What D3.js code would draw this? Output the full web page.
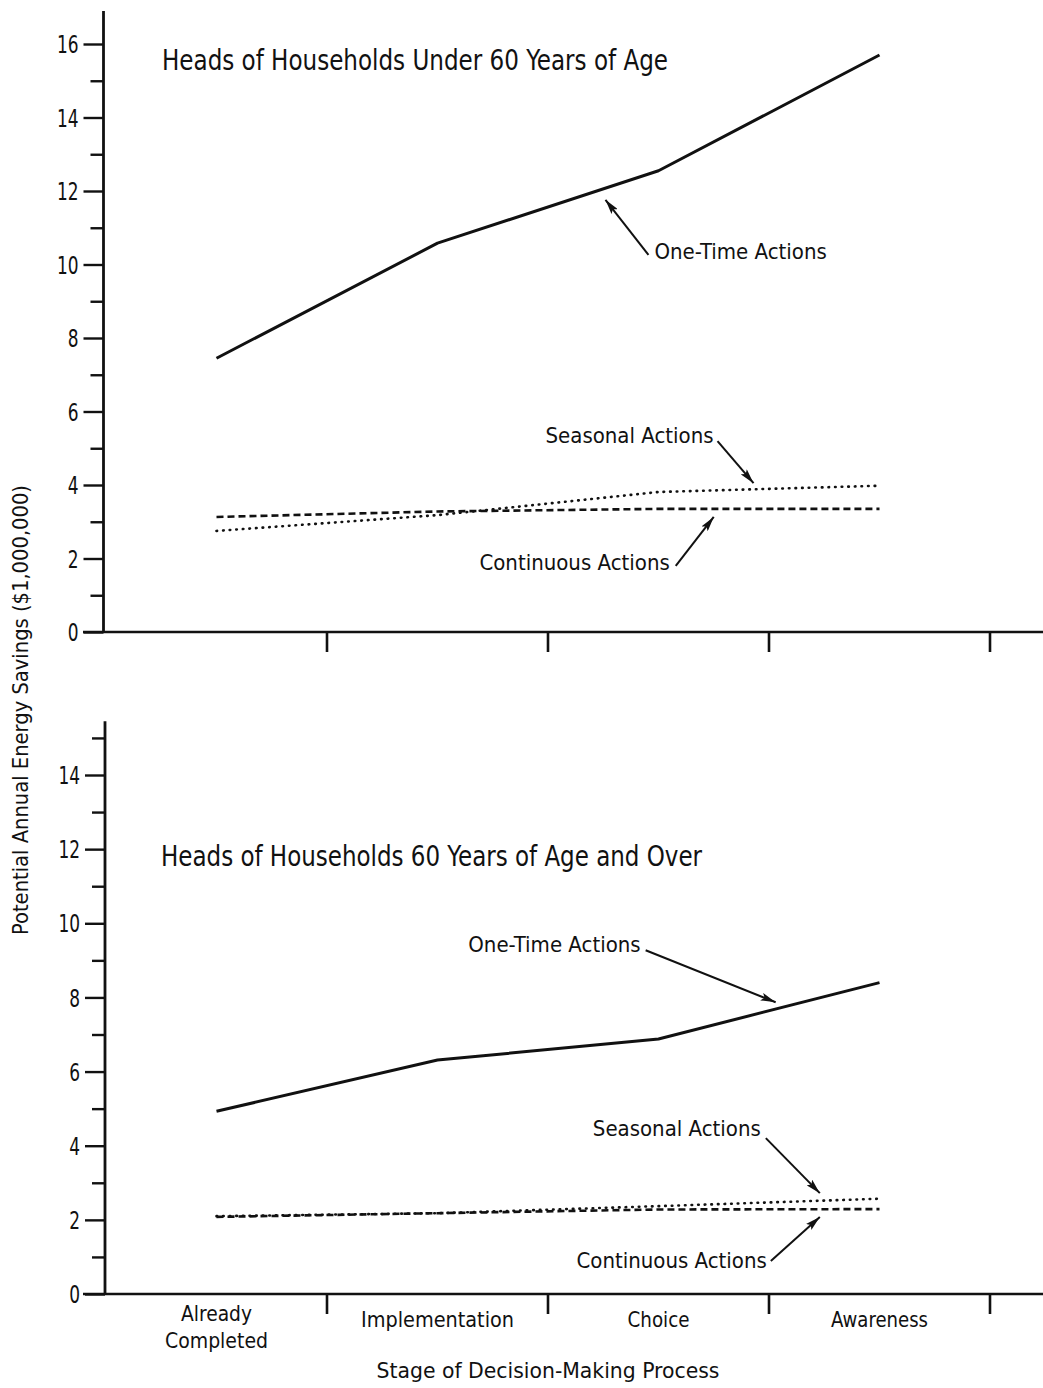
<!DOCTYPE html>
<html>
<head>
<meta charset="utf-8">
<script src="https://cdn.jsdelivr.net/npm/d3@7"></script>
<style>
  html, body { margin: 0; padding: 0; background: #fff; }
  svg { display: block; }
  text { font-family: "Liberation Sans Narrow", "DejaVu Sans Condensed", "Liberation Sans", sans-serif; fill: #111; }
</style>
</head>
<body>
<svg id="chart" width="1043" height="1388"></svg>
<script>
// ---------- data ----------
const categories = ["Already Completed", "Implementation", "Choice", "Awareness"];
const categoryLines = [["Already", "Completed"], ["Implementation"], ["Choice"], ["Awareness"]];

const under60OneTime    = [7.45, 10.58, 12.55, 15.70];
const under60Seasonal   = [2.75, 3.18, 3.81, 3.98];
const under60Continuous = [3.13, 3.28, 3.35, 3.35];

const over60OneTime     = [4.93, 6.31, 6.88, 8.40];
const over60Seasonal    = [2.10, 2.18, 2.37, 2.57];
const over60Continuous  = [2.08, 2.18, 2.28, 2.29];

const topTickValues = [0,1,2,3,4,5,6,7,8,9,10,11,12,13,14,15,16];
const bottomTickValues = [0,1,2,3,4,5,6,7,8,9,10,11,12,13,14,15];

const panelTitles = ["Heads of Households Under 60 Years of Age", "Heads of Households 60 Years of Age and Over"];
const seriesNames = ["One-Time Actions", "Seasonal Actions", "Continuous Actions"];
const yTitle = "Potential Annual Energy Savings ($1,000,000)";
const xTitle = "Stage of Decision-Making Process";

// ---------- layout ----------
const svg = d3.select("#chart");
const ink = "#111";

const x = d3.scaleBand().domain(categories).range([106, 990]).paddingInner(0).paddingOuter(0);
const xc = c => x(c) + x.bandwidth() / 2;
// fractional category position helper for annotations
const xf = f => x(categories[0]) + x.bandwidth() / 2 + f * x.step();

const panels = [
  { title: panelTitles[0], y: d3.scaleLinear().domain([0, 16]).range([632, 44]), axisTop: 16.9,
    ticks: topTickValues, axisX: 103.5, titlePos: [162, 70], titleW: 506,
    series: [under60OneTime, under60Seasonal, under60Continuous],
    notes: [
      { name: seriesNames[0], tip: [1.76, 11.76], tail: [43, 55], anchor: "start", txt: [6, 4], w: 169 },
      { name: seriesNames[1], tip: [2.43, 4.05], tail: [-36, -42], anchor: "end", txt: [-4, 2], w: 168 },
      { name: seriesNames[2], tip: [2.25, 3.13], tail: [-38, 49], anchor: "end", txt: [-6, 4], w: 189 }
    ], showLabels: false },
  { title: panelTitles[1], y: d3.scaleLinear().domain([0, 14]).range([1294, 775]), axisTop: 15.45,
    ticks: bottomTickValues, axisX: 105, titlePos: [161, 866], titleW: 541,
    series: [over60OneTime, over60Seasonal, over60Continuous],
    notes: [
      { name: seriesNames[0], tip: [2.53, 7.87], tail: [-130, -52], anchor: "end", txt: [-5, 2], w: 170 },
      { name: seriesNames[1], tip: [2.73, 2.72], tail: [-54, -55], anchor: "end", txt: [-5, -2], w: 167 },
      { name: seriesNames[2], tip: [2.73, 2.08], tail: [-49, 44], anchor: "end", txt: [-4, 7], w: 189 }
    ], showLabels: true }
];

function fit(sel, w) {
  sel.each(function () {
    const len = this.getComputedTextLength();
    if (Math.abs(len - w) / w > 0.02) {
      d3.select(this).attr("textLength", w).attr("lengthAdjust", "spacingAndGlyphs");
    }
  });
}

svg.append("defs").append("marker")
  .attr("id", "arrow").attr("viewBox", "0 0 15 8").attr("refX", 15).attr("refY", 4)
  .attr("markerWidth", 15).attr("markerHeight", 8).attr("markerUnits", "userSpaceOnUse")
  .attr("orient", "auto")
  .append("path").attr("d", "M0,0 L15,4 L0,8 L3,4 Z").attr("fill", ink);

const styles = [
  { w: 3, dash: null },
  { w: 2.6, dash: "0.6,6" },
  { w: 2.6, dash: "7,4" }
];

panels.forEach((p, pi) => {
  const g = svg.append("g");
  const y = p.y;
  const y0 = y(0);

  // x axis baseline
  g.append("line").attr("x1", 83).attr("x2", 1043).attr("y1", y0).attr("y2", y0)
    .attr("stroke", ink).attr("stroke-width", 2.4);

  // y axis
  const yAxis = d3.axisLeft(y).tickValues(p.ticks).tickSize(20).tickPadding(5)
    .tickFormat(d => d % 2 === 0 ? d : "");
  const ya = g.append("g").attr("transform", `translate(${p.axisX},0)`).call(yAxis);
  ya.select(".domain").remove();
  ya.selectAll(".tick line").attr("stroke", ink).attr("stroke-width", 2.4)
    .attr("x2", d => d % 2 === 0 ? -20 : -13);
  ya.selectAll(".tick text").attr("font-size", 24)
    .attr("font-family", '"Liberation Sans Narrow", "DejaVu Sans Condensed", sans-serif')
    .attr("fill", ink).attr("dy", "0.36em")
    .filter(d => d % 2 === 0)
    .each(function (d) { d3.select(this).call(fit, String(d).length * 10.8); });
  g.append("line").attr("x1", p.axisX).attr("x2", p.axisX).attr("y1", y0 + 1).attr("y2", y(p.axisTop))
    .attr("stroke", ink).attr("stroke-width", 2.8);

  // x ticks at band boundaries
  const bounds = categories.map(c => x(c) + x.bandwidth());
  g.selectAll(".xtick").data(bounds).enter().append("line")
    .attr("x1", d => d).attr("x2", d => d).attr("y1", y0).attr("y2", y0 + 20)
    .attr("stroke", ink).attr("stroke-width", 2.6);

  // category labels
  if (p.showLabels) {
    const labelW = { "Already": 71, "Completed": 103, "Implementation": 153, "Choice": 62, "Awareness": 97 };
    categories.forEach((c, i) => {
      const lines = categoryLines[i];
      if (lines.length === 2) {
        g.append("text").attr("text-anchor", "middle").attr("font-size", 22)
          .attr("x", xc(c)).attr("y", y0 + 27).text(lines[0]).call(fit, labelW[lines[0]]);
        g.append("text").attr("text-anchor", "middle").attr("font-size", 22)
          .attr("x", xc(c)).attr("y", y0 + 54).text(lines[1]).call(fit, labelW[lines[1]]);
      } else {
        g.append("text").attr("text-anchor", "middle").attr("font-size", 22)
          .attr("x", xc(c)).attr("y", y0 + 33).text(lines[0]).call(fit, labelW[lines[0]]);
      }
    });
  }

  // title
  g.append("text").attr("x", p.titlePos[0]).attr("y", p.titlePos[1]).attr("font-size", 28)
    .text(p.title).call(fit, p.titleW);

  // series lines
  const line = d3.line().x((d, i) => xc(categories[i])).y(d => y(d));
  p.series.forEach((s, si) => {
    g.append("path").datum(s).attr("d", line).attr("fill", "none").attr("stroke", ink)
      .attr("stroke-width", styles[si].w).attr("stroke-dasharray", styles[si].dash)
      .attr("stroke-linejoin", "round").attr("stroke-linecap", si === 1 ? "round" : "butt");
  });

  // annotations
  p.notes.forEach(n => {
    const tx = xf(n.tip[0]), ty = y(n.tip[1]);
    const ax = tx + n.tail[0], ay = ty + n.tail[1];
    g.append("line").attr("x1", ax).attr("y1", ay).attr("x2", tx).attr("y2", ty)
      .attr("stroke", ink).attr("stroke-width", 2).attr("marker-end", "url(#arrow)");
    g.append("text").attr("x", ax + n.txt[0]).attr("y", ay + n.txt[1]).attr("text-anchor", n.anchor)
      .attr("font-size", 22).text(n.name).call(fit, n.w);
  });
});

// axis titles
svg.append("text").attr("transform", "translate(28,710) rotate(-90)").attr("text-anchor", "middle")
  .attr("font-size", 21).text(yTitle).call(fit, 450);
svg.append("text").attr("x", 548).attr("y", 1378).attr("text-anchor", "middle")
  .attr("font-size", 21).text(xTitle).call(fit, 343);
</script>
</body>
</html>
